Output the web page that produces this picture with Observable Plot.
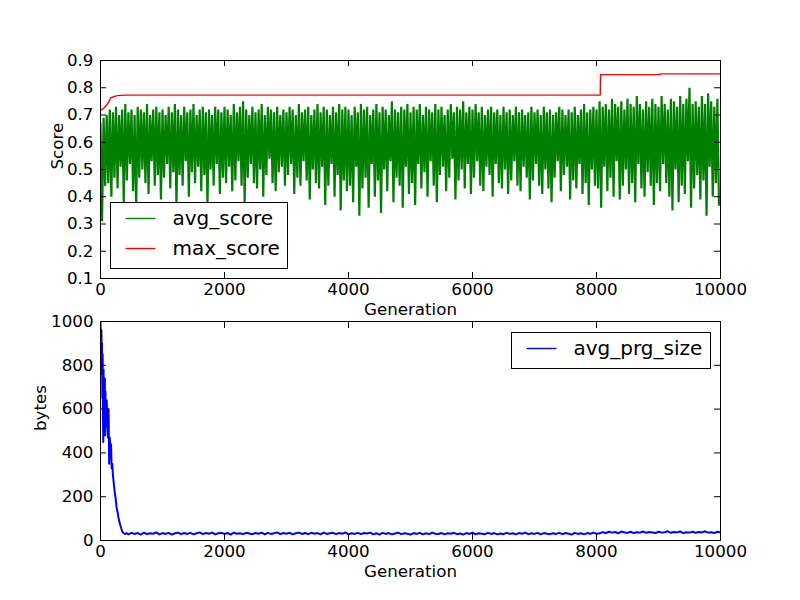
<!DOCTYPE html>
<html><head><meta charset="utf-8">
<script src="https://cdn.jsdelivr.net/npm/d3@7"></script>
<script src="https://cdn.jsdelivr.net/npm/@observablehq/plot@0.6"></script>
<style>
body{margin:0;background:#fff;}
#fig{width:800px;height:600px;position:relative;overflow:hidden;}
#fig svg{display:block;}
</style>
</head><body><div id="fig"></div>
<script>
// ---- data ----
// avg_score peaks (at generation i*50) and troughs (at i*50+25)
const avgHi = [
0.67,0.69,0.70,0.72,0.71,0.73,0.70,0.72,0.74,0.71,0.72,0.70,0.73,0.72,0.71,0.74,0.70,0.72,0.73,0.71,
0.72,0.70,0.73,0.71,0.74,0.72,0.70,0.73,0.71,0.72,0.74,0.70,0.72,0.73,0.71,0.72,0.70,0.73,0.72,0.71,
0.73,0.72,0.70,0.74,0.71,0.73,0.75,0.72,0.70,0.73,0.71,0.72,0.74,0.70,0.73,0.72,0.71,0.73,0.70,0.72,
0.71,0.73,0.72,0.70,0.74,0.71,0.72,0.73,0.70,0.72,0.74,0.71,0.73,0.72,0.70,0.73,0.71,0.74,0.72,0.73,
0.72,0.70,0.73,0.71,0.74,0.72,0.73,0.70,0.72,0.74,0.71,0.73,0.72,0.70,0.75,0.72,0.71,0.73,0.72,0.74,
0.71,0.73,0.72,0.74,0.70,0.73,0.72,0.71,0.74,0.72,0.73,0.70,0.72,0.74,0.71,0.73,0.72,0.75,0.71,0.73,
0.72,0.74,0.71,0.73,0.70,0.72,0.73,0.71,0.72,0.70,0.73,0.71,0.72,0.70,0.73,0.71,0.72,0.70,0.71,0.73,
0.71,0.72,0.70,0.73,0.71,0.72,0.70,0.71,0.73,0.72,0.70,0.72,0.71,0.73,0.70,0.72,0.74,0.71,0.72,0.73,
0.72,0.75,0.73,0.74,0.72,0.76,0.74,0.73,0.75,0.72,0.76,0.74,0.73,0.77,0.74,0.72,0.75,0.73,0.76,0.74,
0.73,0.77,0.74,0.72,0.76,0.75,0.73,0.77,0.74,0.76,0.80,0.74,0.75,0.73,0.77,0.74,0.78,0.75,0.73,0.76
];
const avgLo = [
0.31,0.44,0.45,0.40,0.47,0.43,0.51,0.38,0.46,0.52,0.42,0.36,0.47,0.50,0.45,0.41,0.53,0.44,0.48,0.39,
0.47,0.52,0.43,0.49,0.37,0.48,0.44,0.53,0.40,0.49,0.45,0.51,0.42,0.48,0.36,0.50,0.44,0.52,0.41,0.47,
0.45,0.51,0.42,0.46,0.53,0.44,0.38,0.47,0.52,0.45,0.43,0.50,0.40,0.48,0.54,0.45,0.42,0.49,0.51,0.44,
0.48,0.52,0.41,0.47,0.44,0.53,0.46,0.39,0.50,0.45,0.43,0.51,0.37,0.44,0.52,0.40,0.48,0.35,0.46,0.42,
0.44,0.38,0.51,0.33,0.43,0.47,0.36,0.52,0.40,0.46,0.34,0.50,0.42,0.53,0.38,0.47,0.44,0.36,0.51,0.41,
0.45,0.37,0.52,0.43,0.49,0.40,0.53,0.44,0.38,0.48,0.51,0.42,0.47,0.54,0.39,0.46,0.50,0.43,0.52,0.41,
0.47,0.53,0.44,0.42,0.51,0.48,0.40,0.52,0.45,0.43,0.50,0.41,0.46,0.53,0.44,0.42,0.51,0.47,0.39,0.46,
0.52,0.44,0.41,0.50,0.43,0.38,0.47,0.53,0.42,0.48,0.51,0.39,0.46,0.43,0.52,0.41,0.45,0.37,0.50,0.44,
0.43,0.36,0.51,0.42,0.47,0.40,0.53,0.39,0.44,0.50,0.41,0.45,0.38,0.52,0.43,0.40,0.49,0.44,0.37,0.45,
0.42,0.52,0.45,0.40,0.35,0.50,0.38,0.44,0.41,0.53,0.36,0.43,0.48,0.39,0.46,0.33,0.51,0.40,0.45,0.37
];
// max_score (step curve)
const maxGen = [0, 50, 100, 150, 160, 200, 270, 400, 8060, 8065, 9020, 9025, 10000];
const maxVal = [0.716, 0.725, 0.737, 0.755, 0.763, 0.766, 0.771, 0.773, 0.773, 0.848, 0.848, 0.851, 0.851];
// avg_prg_size: early decay
const prgHeadGen = [0,5,10,15,20,25,30,35,40,45,50,55,60,65,70,75,80,85,90,95,100,110,120,130,140,150,160,170,180,190,200,215,230,245,260,275,290,305,320,335,350,365,380,400,425];
const prgHeadVal = [1000,930,760,960,800,900,650,850,560,450,780,520,700,600,740,480,680,560,620,520,640,540,470,600,350,470,420,440,330,350,300,260,220,190,150,130,105,85,70,55,42,36,32,30,33];
// avg_prg_size: plateau, every 50 generations from 450 to 10000
const prgTailVal = [
28,35,30,34,27,36,29,33,31,37,28,34,30,35,27,33,36,29,34,30,
35,28,33,37,29,34,31,36,28,33,35,30,34,27,36,31,33,29,35,32,
29,34,31,36,28,35,30,33,37,29,34,31,35,28,33,36,30,34,29,35,
31,34,28,36,30,33,35,29,34,31,37,28,33,30,35,29,34,32,36,28,
33,27,35,30,34,28,32,36,29,33,31,27,34,30,35,28,33,29,36,31,
30,34,28,33,31,35,29,32,27,34,30,36,28,33,31,29,35,30,34,28,
32,29,35,30,33,28,34,31,36,29,33,30,35,28,34,31,29,33,30,35,
29,34,31,27,35,30,33,28,34,31,36,30,
33,38,34,40,36,39,33,41,37,35,40,34,38,36,41,35,39,37,34,40,
36,38,42,35,39,37,41,34,38,36,40,35,39,37,42,36,38,34,40,37
];
const xTicks = [0, 2000, 4000, 6000, 8000, 10000];
const yTicksTop = [0.1, 0.2, 0.3, 0.4, 0.5, 0.6, 0.7, 0.8, 0.9];
const yTicksBottom = [0, 200, 400, 600, 800, 1000];

// ---- build tables ----
const avgData = avgHi.flatMap((h, i) => [{gen: i * 50, v: h}, {gen: i * 50 + 25, v: avgLo[i]}]);
const maxData = maxGen.map((g, i) => ({gen: g, v: maxVal[i]}));
const prgData = prgHeadGen.map((g, i) => ({gen: g, v: prgHeadVal[i]}))
  .concat(prgTailVal.map((v, i) => ({gen: 450 + i * 50, v})));

const FONT = "DejaVu Sans";
const FS = "16.7px";
const PW = 620, PH = 218, TL = 6;
const style = {fontFamily: FONT, fontSize: FS, background: "white", color: "black", overflow: "visible"};

function frameMarks(yTicks, yFmt) {
  return [
    Plot.frame({stroke: "black", strokeWidth: 1}),
    Plot.tickX(xTicks, {x: d => d, insetTop: PH - TL, stroke: "black"}),
    Plot.tickX(xTicks, {x: d => d, insetBottom: PH - TL, stroke: "black"}),
    Plot.tickY(yTicks, {y: d => d, insetRight: PW - TL, stroke: "black"}),
    Plot.tickY(yTicks, {y: d => d, insetLeft: PW - TL, stroke: "black"}),
    Plot.axisX(xTicks, {tickSize: 0, tickPadding: 5, tickFormat: d3.format("d"), label: null, fontSize: FS}),
    Plot.axisY(yTicks, {tickSize: 0, tickPadding: 7, tickFormat: yFmt, label: null, fontSize: FS})
  ];
}

const topPlot = Plot.plot({
  width: 800, height: 300,
  marginLeft: 100, marginRight: 80, marginTop: 60, marginBottom: 22,
  x: {domain: [0, 10000]}, y: {domain: [0.1, 0.9]},
  style,
  marks: [
    Plot.line(avgData, {x: "gen", y: "v", stroke: "#008000", strokeWidth: 2.2, strokeLinejoin: "miter", clip: true}),
    Plot.line(maxData, {x: "gen", y: "v", stroke: "#ff0000", strokeWidth: 1.4, clip: true}),
    ...frameMarks(yTicksTop, d3.format(".1f")),
    Plot.text(["Score"], {frameAnchor: "left", text: d => d, rotate: -90, dx: -43, fontSize: FS}),
    Plot.text(["Generation"], {frameAnchor: "bottom", text: d => d, dy: 31, lineAnchor: "middle", fontSize: FS})
  ]
});

const botPlot = Plot.plot({
  width: 800, height: 300,
  marginLeft: 100, marginRight: 80, marginTop: 21, marginBottom: 60,
  x: {domain: [0, 10000]}, y: {domain: [0, 1000]},
  style,
  marks: [
    Plot.line(prgData, {x: "gen", y: "v", stroke: "#0000ff", strokeWidth: 2, clip: true}),
    ...frameMarks(yTicksBottom, d3.format("d")),
    Plot.text(["bytes"], {frameAnchor: "left", text: d => d, rotate: -90, dx: -60, fontSize: FS}),
    Plot.text(["Generation"], {frameAnchor: "bottom", text: d => d, dy: 31, lineAnchor: "middle", fontSize: FS})
  ]
});

// ---- legends ----
function legend(svg, box, items) {
  const g = d3.select(svg).append("g");
  g.append("rect").attr("x", box.x).attr("y", box.y).attr("width", box.w).attr("height", box.h)
    .attr("fill", "white").attr("stroke", "black").attr("stroke-width", 1);
  items.forEach((it, i) => {
    const y = box.y + 16 + i * 30;
    g.append("line").attr("x1", box.x + 15).attr("x2", box.x + 45).attr("y1", y).attr("y2", y)
      .attr("stroke", it.color).attr("stroke-width", 1.4);
    g.append("text").attr("x", box.x + 62).attr("y", y + 6.5).text(it.label)
      .attr("text-anchor", "start")
      .attr("font-family", FONT).attr("font-size", "20px").attr("fill", "black");
  });
}
legend(topPlot, {x: 110.5, y: 202.5, w: 177, h: 66},
  [{label: "avg_score", color: "#008000"}, {label: "max_score", color: "#ff0000"}]);
legend(botPlot, {x: 511.5, y: 32.5, w: 199, h: 36},
  [{label: "avg_prg_size", color: "#0000ff"}]);

const fig = document.getElementById("fig");
fig.appendChild(topPlot);
fig.appendChild(botPlot);
</script>
</body></html>
